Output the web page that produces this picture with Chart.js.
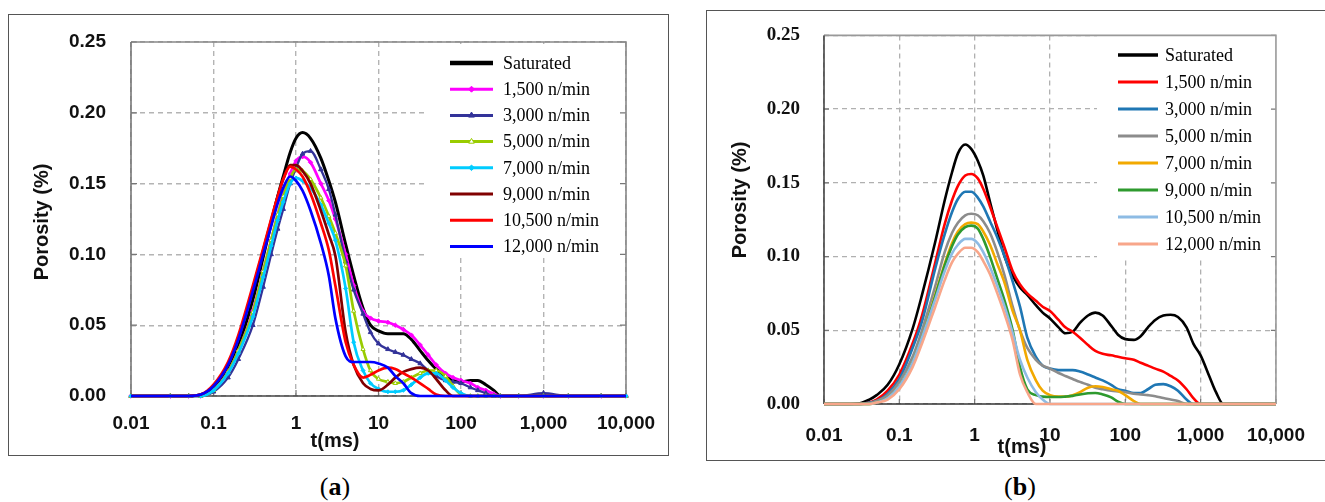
<!DOCTYPE html>
<html><head><meta charset="utf-8">
<script src="https://cdn.jsdelivr.net/npm/chart.js@4.4.1/dist/chart.umd.min.js"></script>
<style>
html,body{margin:0;padding:0;background:#fff;width:1325px;height:502px;overflow:hidden;position:relative;}
.box{position:absolute;border:1.5px solid #555;box-sizing:border-box;}
canvas{position:absolute;}
.cap{position:absolute;font-family:"Liberation Serif",serif;font-size:26px;color:#000;transform:translateX(-50%);white-space:nowrap;line-height:30px;}
</style></head><body>
<div class="box" style="left:8px;top:14px;width:661px;height:442px"></div>
<div class="box" style="left:706px;top:10px;width:640px;height:451px"></div>
<canvas id="ca" width="690" height="470" style="left:0;top:0;width:690px;height:470px"></canvas>
<canvas id="cb" width="635" height="470" style="left:690px;top:0;width:635px;height:470px"></canvas>
<div class="cap" style="left:335px;top:472px">(<b>a</b>)</div>
<div class="cap" style="left:1020px;top:472px">(<b>b</b>)</div>
<script>
// ---------- data ----------
const SERIES_NAMES = ['Saturated','1,500 n/min','3,000 n/min','5,000 n/min','7,000 n/min','9,000 n/min','10,500 n/min','12,000 n/min'];
const X_TICK_VALUES = [0.01, 0.1, 1, 10, 100, 1000, 10000];
const X_TICK_LABELS = ['0.01','0.1','1','10','100','1,000','10,000'];
const Y_TICK_VALUES = [0, 0.05, 0.10, 0.15, 0.20, 0.25];
const Y_TICK_LABELS = ['0.00','0.05','0.10','0.15','0.20','0.25'];

// panel (a) relaxation times (ms)
const T_A = [0.01,0.03,0.05,0.07,0.1,0.15,0.2,0.3,0.4,0.5,0.6,0.7,0.85,1,1.2,1.5,2,2.5,3,4,5,6.5,8,10,13,16,20,25,32,40,50,65,80,100,130,160,200,250,300,500,1000,2000,5000,10000];
const A_SATURATED = [0,0,0,0.001, 0.006,0.019,0.035,0.068, 0.098,0.122,0.141,0.155, 0.172,0.182,0.186,0.182, 0.168,0.152,0.137,0.107, 0.085,0.062,0.050,0.046, 0.044,0.044,0.044,0.040, 0.032,0.025,0.019,0.014, 0.011,0.010,0.011,0.011, 0.008,0.004,0,0, 0,0,0,0];
const A_1500 = [0,0,0,0, 0.004,0.017,0.032,0.060, 0.088,0.110,0.128,0.142, 0.157,0.166,0.169,0.165, 0.150,0.138,0.125,0.100, 0.078,0.060,0.055,0.053, 0.052,0.050,0.047,0.043, 0.036,0.029,0.022,0.016, 0.013,0.011,0.009,0.006, 0.004,0.0015,0,0, 0,0,0,0];
const A_3000 = [0,0,0,0, 0.003,0.013,0.026,0.050, 0.077,0.100,0.118,0.132, 0.150,0.161,0.171,0.173, 0.160,0.146,0.128,0.095, 0.075,0.058,0.045,0.037, 0.033,0.031,0.029,0.026, 0.023,0.018,0.014,0.011, 0.010,0.009,0.006,0.004, 0.002,0,0,0, 0.002,0,0,0];
const A_5000 = [0,0,0,0, 0.004,0.017,0.032,0.059, 0.088,0.110,0.128,0.141, 0.154,0.160,0.159,0.153, 0.140,0.127,0.115,0.092, 0.060,0.033,0.018,0.012, 0.010,0.009,0.010,0.013, 0.016,0.018,0.018,0.014, 0.007,0.001,0,0, 0,0,0,0, 0,0,0,0];
const A_7000 = [0,0,0,0, 0.004,0.016,0.030,0.056, 0.084,0.106,0.124,0.137, 0.150,0.154,0.152,0.147, 0.135,0.122,0.110,0.076, 0.038,0.018,0.009,0.005, 0.003,0.003,0.004,0.008, 0.013,0.016,0.016,0.011, 0.006,0.002,0,0, 0,0,0,0, 0,0,0,0];
const A_9000 = [0,0,0,0.001, 0.007,0.022,0.041,0.076, 0.103,0.124,0.141,0.153, 0.163,0.163,0.159,0.150, 0.131,0.114,0.099,0.045, 0.022,0.009,0.005,0.004, 0.008,0.013,0.017,0.019, 0.020,0.018,0.012,0.004, 0,0,0,0, 0,0,0,0, 0,0,0,0];
const A_10500 = [0,0,0,0.001, 0.008,0.024,0.043,0.078, 0.104,0.125,0.141,0.153, 0.162,0.160,0.155,0.143, 0.122,0.103,0.078,0.038, 0.022,0.013,0.015,0.018, 0.020,0.019,0.016,0.013, 0.009,0.005,0.001,0, 0,0,0,0, 0,0,0,0, 0,0,0,0];
const A_12000 = [0,0,0,0.001, 0.007,0.022,0.040,0.074, 0.100,0.120,0.136,0.147, 0.155,0.152,0.145,0.131, 0.108,0.085,0.055,0.028, 0.024,0.024,0.024,0.023, 0.020,0.014,0.009,0.002, 0,0,0,0, 0,0,0,0, 0,0,0,0, 0,0,0,0];

// panel (b) relaxation times (ms)
const T_B = [0.01,0.02,0.03,0.04,0.05,0.07,0.1,0.15,0.2,0.3,0.4,0.5,0.6,0.75,0.9,1.1,1.3,1.6,2,2.5,3.2,4,5,6.5,8,10,13,16,20,25,32,40,50,65,80,100,130,160,200,250,320,400,500,650,800,1000,1300,1600,2000,3000,10000];
const B_SATURATED = [0,0,0.0005,0.003, 0.006,0.013,0.027,0.051, 0.074,0.110,0.138,0.157, 0.170,0.176,0.173,0.165, 0.155,0.137,0.118,0.100, 0.087,0.079,0.074,0.067, 0.062,0.058,0.052,0.048, 0.049,0.055,0.060,0.062, 0.060,0.053,0.047,0.044, 0.0435,0.046,0.052,0.057, 0.060,0.0605,0.059,0.052, 0.041,0.033,0.019,0.008, 0,0,0];
const B_1500 = [0,0,0,0.001, 0.003,0.009,0.020,0.041, 0.060,0.096,0.122,0.138, 0.148,0.155,0.156,0.153, 0.146,0.134,0.120,0.106, 0.090,0.081,0.075,0.070, 0.066,0.063,0.057,0.052, 0.049,0.045,0.040,0.036, 0.034,0.033,0.032,0.031, 0.030,0.028,0.026,0.024, 0.022,0.019,0.016,0.010, 0.004,0,0,0, 0,0,0];
const B_3000 = [0,0,0,0.001, 0.002,0.007,0.017,0.038, 0.056,0.092,0.115,0.130, 0.139,0.144,0.144,0.140, 0.134,0.124,0.113,0.100, 0.083,0.066,0.045,0.032, 0.026,0.024,0.023,0.023, 0.023,0.022,0.020,0.018, 0.016,0.013,0.010,0.009, 0.0075,0.0075,0.010,0.013, 0.0135,0.012,0.009,0.003, 0,0,0,0, 0,0,0];
const B_5000 = [0,0,0,0.0005, 0.002,0.006,0.015,0.032, 0.050,0.080,0.103,0.116, 0.123,0.128,0.129,0.128, 0.124,0.116,0.103,0.087, 0.066,0.050,0.038,0.030, 0.026,0.024,0.021,0.019, 0.017,0.015,0.013,0.011, 0.010,0.009,0.0085,0.008, 0.007,0.0065,0.006,0.0053, 0.004,0.003,0.002,0, 0,0,0,0, 0,0,0];
const B_7000 = [0,0,0,0, 0.001,0.004,0.012,0.028, 0.045,0.074,0.095,0.109, 0.117,0.122,0.123,0.122, 0.117,0.108,0.095,0.082, 0.063,0.050,0.030,0.016, 0.009,0.006,0.005,0.005, 0.006,0.008,0.011,0.012, 0.0115,0.010,0.009,0.006, 0.002,0,0,0, 0,0,0,0, 0,0,0,0, 0,0,0];
const B_9000 = [0,0,0,0, 0.001,0.004,0.012,0.028, 0.045,0.073,0.094,0.107, 0.115,0.120,0.121,0.119, 0.112,0.100,0.085,0.070, 0.050,0.025,0.010,0.006, 0.005,0.0047,0.0047,0.005, 0.0055,0.0065,0.0073,0.0075, 0.0065,0.0045,0.0015,0, 0,0,0,0, 0,0,0,0, 0,0,0,0, 0,0,0];
const B_10500 = [0,0,0,0, 0.001,0.004,0.012,0.028, 0.045,0.071,0.090,0.102, 0.108,0.112,0.112,0.109, 0.103,0.093,0.080,0.066, 0.048,0.030,0.018,0.008, 0.003,0,0,0, 0,0,0,0, 0,0,0,0, 0,0,0,0, 0,0,0,0, 0,0,0,0, 0,0,0];
const B_12000 = [0,0,0,0, 0.001,0.003,0.010,0.025, 0.041,0.066,0.084,0.096, 0.102,0.106,0.106,0.103, 0.097,0.088,0.075,0.061, 0.043,0.020,0.008,0, 0,0,0,0, 0,0,0,0, 0,0,0,0, 0,0,0,0, 0,0,0,0, 0,0,0,0, 0,0,0];

// ---------- styles ----------
const STYLE_A = [
  {color:'#000000', width:3, lw:4.5},
  {color:'#ff00ff', width:2.7, point:'rectRot', r:2.2},
  {color:'#333399', width:2.3, point:'triangle', r:2.6},
  {color:'#99cc00', width:2.7, point:'triangle', r:2.4, fill:'#ffffff'},
  {color:'#00ccff', width:2.7, point:'rectRot', r:2},
  {color:'#800000', width:2.7},
  {color:'#ff0000', width:2.7},
  {color:'#0000ff', width:2.7}
];
const STYLE_B = [
  {color:'#000000', width:2.6, lw:3.5},
  {color:'#ff0000', width:2.6},
  {color:'#1f77b4', width:2.6},
  {color:'#8c8c8c', width:2.6},
  {color:'#f2a900', width:2.6},
  {color:'#2e9a2e', width:2.6},
  {color:'#8dbbe4', width:2.6},
  {color:'#f8a68a', width:2.6}
];

const panelPlugin = {
  id:'panel',
  beforeDatasetsDraw(chart, args, o){
    const ctx=chart.ctx, a=chart.chartArea, xs=chart.scales.x, ys=chart.scales.y;
    ctx.save();
    ctx.fillStyle='#fff';
    const lb=o.legendBox;
    ctx.fillRect(lb[0], lb[1], lb[2]-lb[0], lb[3]-lb[1]);
    ctx.strokeStyle=o.tickColor; ctx.lineWidth=1.2;
    ctx.beginPath();
    Y_TICK_VALUES.forEach(v=>{const y=ys.getPixelForValue(v); ctx.moveTo(a.left,y); ctx.lineTo(a.left+o.tickLen,y); ctx.moveTo(a.right,y); ctx.lineTo(a.right-o.tickLen,y);});
    X_TICK_VALUES.forEach(v=>{const x=xs.getPixelForValue(v); ctx.moveTo(x,a.bottom); ctx.lineTo(x,a.bottom-o.tickLen);});
    ctx.stroke();
    ctx.lineWidth=o.frameWidth;
    ctx.strokeStyle=o.frameColor;
    ctx.beginPath(); ctx.moveTo(a.left,a.top); ctx.lineTo(a.right,a.top); ctx.lineTo(a.right,a.bottom); ctx.stroke();
    ctx.strokeStyle=o.leftColor;
    ctx.beginPath(); ctx.moveTo(a.left,a.top); ctx.lineTo(a.left,a.bottom); ctx.stroke();
    ctx.strokeStyle=o.bottomColor;
    ctx.beginPath(); ctx.moveTo(a.left,a.bottom); ctx.lineTo(a.right,a.bottom); ctx.stroke();
    ctx.restore();
  },
  afterDraw(chart, args, o){
    const ctx=chart.ctx;
    ctx.save();
    ctx.fillStyle='#111';
    ctx.font=o.titleFont;
    ctx.textAlign='center'; ctx.textBaseline='middle';
    ctx.fillText('t(ms)', o.xTitle[0], o.xTitle[1]);
    ctx.translate(o.yTitle[0], o.yTitle[1]); ctx.rotate(-Math.PI/2);
    ctx.fillText('Porosity (%)', 0, 0);
    ctx.restore();
    const L=o.legend;
    ctx.save();
    chart.data.datasets.forEach((ds,i)=>{
      const y=L.y0+i*L.dy;
      ctx.strokeStyle=ds.borderColor; ctx.lineWidth=ds.legendWidth; ctx.lineCap='butt';
      ctx.beginPath(); ctx.moveTo(L.x1,y); ctx.lineTo(L.x2,y); ctx.stroke();
      if(ds.pointRadius>0 && Chart.helpers && Chart.helpers.drawPoint){
        ctx.fillStyle=ds.pointBackgroundColor; ctx.strokeStyle=ds.pointBorderColor; ctx.lineWidth=1;
        Chart.helpers.drawPoint(ctx,{pointStyle:ds.pointStyle, radius:ds.pointRadius+0.8, borderWidth:1, rotation:0},(L.x1+L.x2)/2,y);
      }
      ctx.fillStyle='#000'; ctx.font=L.font; ctx.textAlign='left'; ctx.textBaseline='middle';
      ctx.fillText(ds.label, L.tx, y+1);
    });
    ctx.restore();
  }
};

function buildChart(id, cfg){
  return new Chart(document.getElementById(id), {
    type:'line',
    data:{datasets: cfg.series.map((vals,i)=>{
      const st=cfg.styles[i];
      return {
        label: SERIES_NAMES[i],
        data: cfg.t.map((t,k)=>({x:t, y:vals[k]})),
        borderColor: st.color, backgroundColor: st.fill||st.color,
        borderWidth: st.width, legendWidth: st.lw||3,
        pointRadius: st.r||0, pointHoverRadius:0, pointStyle: st.point||'circle',
        pointBackgroundColor: st.fill||st.color, pointBorderColor: st.color, pointBorderWidth:1,
        cubicInterpolationMode:'monotone', fill:false, order:100-i, clip:false
      };
    })},
    options:{
      responsive:false, animation:false, devicePixelRatio:1,
      layout:{padding:cfg.padding},
      events:[],
      plugins:{legend:{display:false}, tooltip:{enabled:false}, panel:cfg.panel},
      scales:{
        x:{type:'logarithmic', min:0.01, max:10000,
          afterBuildTicks:s=>{s.ticks=X_TICK_VALUES.map(v=>({value:v}));},
          afterFit:s=>{s.height=cfg.xh;},
          grid:{color:cfg.gridColor, lineWidth:cfg.gridWidth, drawTicks:false},
          border:{display:false, dash:[5,4]},
          ticks:{autoSkip:false, maxRotation:0, minRotation:0, padding:cfg.xPad, font:cfg.xFont, color:'#111', callback:(v,i)=>X_TICK_LABELS[i]}
        },
        y:{type:'linear', min:0, max:0.25,
          afterBuildTicks:s=>{s.ticks=Y_TICK_VALUES.map(v=>({value:v}));},
          afterFit:s=>{s.width=cfg.yw;},
          grid:{color:cfg.gridColor, lineWidth:cfg.gridWidth, drawTicks:false},
          border:{display:false, dash:[5,4]},
          ticks:{padding:cfg.yPad, font:cfg.yFont, color:'#111', callback:(v,i)=>Y_TICK_LABELS[i]}
        }
      }
    },
    plugins:[panelPlugin]
  });
}

buildChart('ca', {
  t:T_A, series:[A_SATURATED,A_1500,A_3000,A_5000,A_7000,A_9000,A_10500,A_12000], styles:STYLE_A,
  padding:{left:0, top:42, right:64, bottom:0}, yw:131, xh:74,
  gridColor:'#b4b4b4', gridWidth:1.4,
  xPad:16, yPad:25,
  xFont:{family:'"Liberation Sans", Arial, sans-serif', size:19, weight:'bold'},
  yFont:{family:'"Liberation Sans", Arial, sans-serif', size:19, weight:'bold'},
  panel:{
    legendBox:[428,44,622,258], tickColor:'#777', tickLen:6, frameWidth:1.6,
    frameColor:'#888', leftColor:'#777', bottomColor:'#444',
    titleFont:'bold 20px "Liberation Sans", Arial, sans-serif', xTitle:[335,441], yTitle:[42,222],
    legend:{x1:450, x2:493, tx:503, y0:63, dy:26.2, font:'18px "Liberation Serif", serif'}
  }
});

buildChart('cb', {
  t:T_B, series:[B_SATURATED,B_1500,B_3000,B_5000,B_7000,B_9000,B_10500,B_12000], styles:STYLE_B,
  padding:{left:0, top:30, right:30, bottom:0}, yw:134, xh:66,
  gridColor:'#b0b0b0', gridWidth:1.3,
  xPad:20, yPad:24,
  xFont:{family:'"Liberation Sans", Arial, sans-serif', size:19, weight:'bold'},
  yFont:{family:'"Liberation Serif", "Times New Roman", serif', size:19, weight:'bold'},
  panel:{
    legendBox:[407,32,602,258], tickColor:'#777', tickLen:5, frameWidth:1.6,
    frameColor:'#999', leftColor:'#444', bottomColor:'#333',
    titleFont:'bold 20px "Liberation Sans", Arial, sans-serif', xTitle:[332,447], yTitle:[50,200],
    legend:{x1:428, x2:468, tx:475, y0:55, dy:27, font:'18px "Liberation Serif", serif'}
  }
});
</script>
</body></html>
